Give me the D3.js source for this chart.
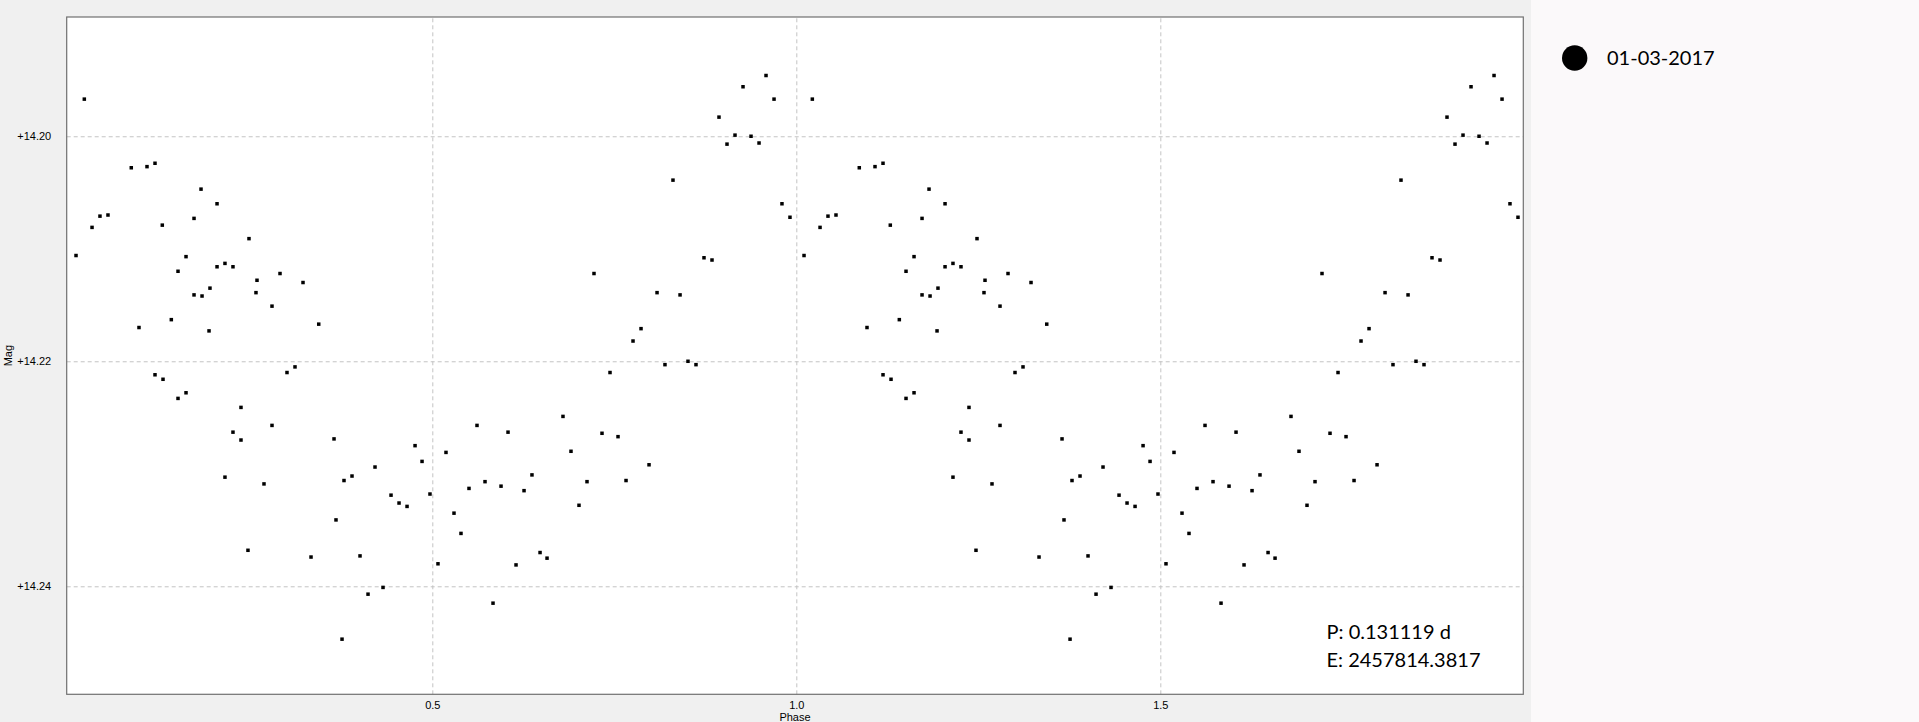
<!DOCTYPE html>
<html>
<head>
<meta charset="utf-8">
<script src="https://cdn.jsdelivr.net/npm/d3@7"></script>
<style>
  html, body { margin: 0; padding: 0; background: #f0f0f0; overflow: hidden; }
  svg { display: block; }
</style>
</head>
<body>
<svg id="chart" width="1919" height="722"></svg>
<script>
// ---- data ----
const phases = [0.0220,0.0865,0.1081,0.1191,0.1823,0.2043,0.0435,0.0545,0.0326,0.1291,
  0.1727,0.2482,0.0106,0.1617,0.1507,0.2043,0.2152,0.2262,0.2592,0.2908,
  0.3224,0.2578,0.1727,0.1837,0.1946,0.2798,0.1415,0.0971,0.1933,0.3440,
  0.9584,0.9268,0.9694,0.8938,0.9158,0.9378,0.9048,0.9488,0.8306,0.9803,
  0.9913,0.8732,0.8842,0.7221,0.8087,0.8403,0.7867,0.7757,0.1191,0.1301,
  0.1617,0.1507,0.2372,0.2798,0.2262,0.2372,0.2152,0.2688,0.2468,0.3334,
  0.3004,0.3114,0.3650,0.4763,0.4859,0.4213,0.3897,0.3787,0.4433,0.4543,
  0.4653,0.4968,0.3677,0.4007,0.4323,0.4117,0.3760,0.5614,0.6040,0.6795,
  0.5188,0.6369,0.5724,0.5504,0.5944,0.6260,0.5298,0.5394,0.5078,0.6150,
  0.6480,0.6576,0.5834,0.8196,0.8512,0.8622,0.7441,0.7331,0.7551,0.6905,
  0.7977,0.7125,0.7661,0.7015];
const mags = [14.1967,14.2028,14.2027,14.2024,14.2047,14.2060,14.2071,14.2070,14.2081,14.2079,
  14.2073,14.2091,14.2106,14.2107,14.2120,14.2116,14.2113,14.2116,14.2128,14.2122,
  14.2130,14.2139,14.2141,14.2142,14.2135,14.2151,14.2163,14.2170,14.2173,14.2167,
  14.1946,14.1956,14.1967,14.1983,14.1999,14.2000,14.2007,14.2006,14.2039,14.2060,
  14.2072,14.2108,14.2110,14.2122,14.2139,14.2141,14.2171,14.2182,14.2212,14.2216,
  14.2228,14.2233,14.2241,14.2257,14.2263,14.2270,14.2303,14.2309,14.2368,14.2374,
  14.2210,14.2205,14.2269,14.2275,14.2289,14.2294,14.2302,14.2306,14.2319,14.2326,
  14.2329,14.2318,14.2341,14.2373,14.2401,14.2407,14.2447,14.2257,14.2263,14.2249,
  14.2281,14.2301,14.2307,14.2313,14.2311,14.2315,14.2335,14.2353,14.2380,14.2381,
  14.2370,14.2375,14.2415,14.2203,14.2200,14.2203,14.2210,14.2264,14.2267,14.2280,
  14.2292,14.2307,14.2306,14.2328];
const cycles = [0, 1];
const xTicks = [0.5, 1.0, 1.5];
const yTicks = [14.20, 14.22, 14.24];
const xLabel = "Phase";
const yLabel = "Mag";
const seriesName = "01-03-2017";
const infoLines = ["P: 0.131119 d", "E: 2457814.3817"];

// ---- layout ----
const svg = d3.select("#chart");
const L = 66.7, R = 1523.3, T = 17, B = 694.3;

svg.append("rect").attr("x", 0).attr("y", 0).attr("width", 1531).attr("height", 722).attr("fill", "#f0f0f0");
svg.append("rect").attr("x", 1531).attr("y", 0).attr("width", 388).attr("height", 722).attr("fill", "#fbf9fa");
svg.append("rect").attr("x", L).attr("y", T).attr("width", R - L).attr("height", B - T).attr("fill", "#ffffff");

const x = d3.scaleLinear().domain([-0.0022, 1.9986]).range([L, R]);
const y = d3.scaleLinear().domain([14.1894, 14.2496]).range([T, B]);

// grid + y labels
const yAxis = svg.append("g").attr("transform", `translate(${L},0)`)
  .call(d3.axisLeft(y).tickValues(yTicks).tickSize(-(R - L)).tickPadding(15.5)
    .tickFormat(d => "+" + d.toFixed(2)));
yAxis.select(".domain").remove();
yAxis.selectAll("line").attr("stroke", "#c4c4c4").attr("stroke-dasharray", "4,3");
yAxis.selectAll("text").attr("font-family", "'Liberation Sans', Arial, sans-serif")
  .attr("font-size", 11).attr("fill", "#000");

const xAxis = svg.append("g").attr("transform", `translate(0,${B})`)
  .call(d3.axisBottom(x).tickValues(xTicks).tickSize(-(B - T)).tickPadding(7)
    .tickFormat(d3.format(".1f")));
xAxis.select(".domain").remove();
xAxis.selectAll("line").attr("stroke", "#c4c4c4").attr("stroke-dasharray", "4,3");
xAxis.selectAll("text").attr("font-family", "'Liberation Sans', Arial, sans-serif")
  .attr("font-size", 11).attr("fill", "#000");

// axis titles
svg.append("text").attr("x", (L + R) / 2).attr("y", 721).attr("text-anchor", "middle")
  .attr("font-family", "'Liberation Sans', Arial, sans-serif").attr("font-size", 11).text(xLabel);
svg.append("text").attr("transform", `translate(12,${(T + B) / 2}) rotate(-90)`)
  .attr("text-anchor", "middle")
  .attr("font-family", "'Liberation Sans', Arial, sans-serif").attr("font-size", 11).text(yLabel);

// clip
svg.append("clipPath").attr("id", "clip").append("rect")
  .attr("x", L).attr("y", T).attr("width", R - L).attr("height", B - T);

const pts = [];
cycles.forEach(c => phases.forEach((p, i) => pts.push({ p: p + c, m: mags[i] })));

svg.append("g").attr("clip-path", "url(#clip)")
  .selectAll("rect").data(pts).join("rect")
  .attr("x", d => x(d.p) - 1.75).attr("y", d => y(d.m) - 1.75)
  .attr("width", 3.5).attr("height", 3.5).attr("fill", "#000");

// frame
svg.append("rect").attr("x", L).attr("y", T).attr("width", R - L).attr("height", B - T)
  .attr("fill", "none").attr("stroke", "#707070").attr("stroke-width", 1.2);

// info text
svg.append("g").selectAll("text").data(infoLines).join("text")
  .attr("x", 1326.5).attr("y", (d, i) => 639 + i * 27.5)
  .attr("font-family", "Lato, 'Open Sans', sans-serif").attr("font-size", 20).attr("fill", "#000")
  .text(d => d);

// legend
svg.append("circle").attr("cx", 1574.7).attr("cy", 58).attr("r", 12.7).attr("fill", "#000");
svg.append("text").attr("x", 1607).attr("y", 64.5)
  .attr("font-family", "Lato, 'Open Sans', sans-serif").attr("font-size", 20).attr("fill", "#000")
  .text(seriesName);
</script>
</body>
</html>
